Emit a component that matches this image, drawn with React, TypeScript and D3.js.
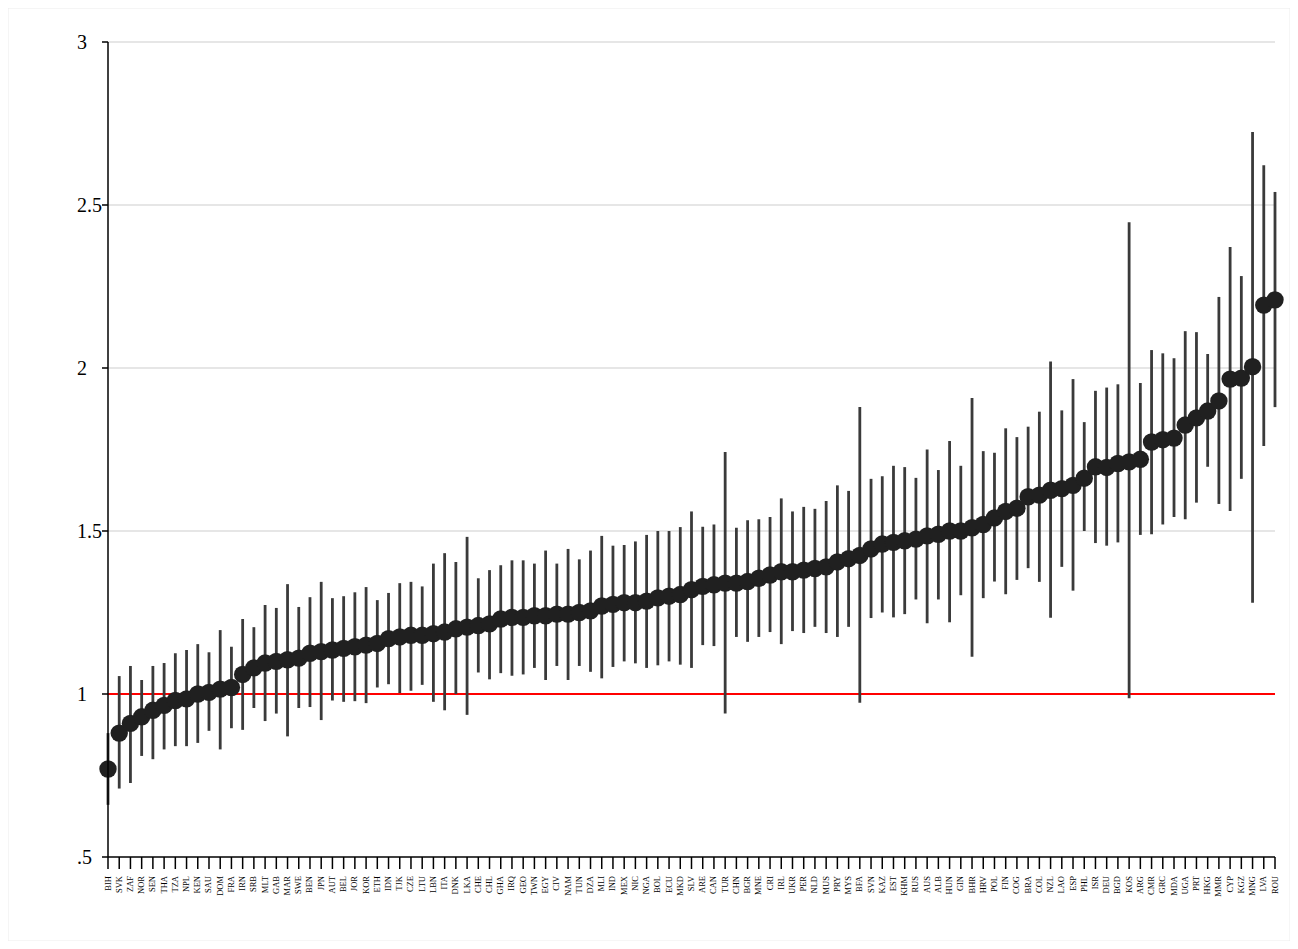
import React from "react";
import * as d3 from "d3";

// Country codes, ordered by estimate
const countries = [
  "BIH","SVK","ZAF","NOR","SEN","THA","TZA","NPL","KEN","SAU","DOM","FRA","IRN","SRB","MLT","GAB","MAR","SWE","BEN","JPN",
  "AUT","BEL","JOR","KOR","ETH","IDN","TJK","CZE","LTU","LBN","ITA","DNK","LKA","CHE","CHL","GHA","IRQ","GEO","TWN","EGY",
  "CIV","NAM","TUN","DZA","MLI","IND","MEX","NIC","NGA","BOL","ECU","MKD","SLV","ARE","CAN","TUR","CHN","BGR","MNE","CRI",
  "IRL","UKR","PER","NLD","MUS","PRY","MYS","BFA","SVN","KAZ","EST","KHM","RUS","AUS","ALB","HUN","GIN","BHR","HRV","POL",
  "FIN","COG","BRA","COL","NZL","LAO","ESP","PHL","ISR","DEU","BGD","KOS","ARG","CMR","GRC","MDA","UGA","PRT","HKG","MMR",
  "CYP","KGZ","MNG","LVA","ROU",
];

// Point estimates
const estimates = [
  0.77,0.88,0.91,0.93,0.95,0.965,0.98,0.985,1.0,1.005,1.015,1.02,1.06,1.08,1.095,1.10,1.105,1.11,1.125,1.13,
  1.135,1.14,1.145,1.15,1.155,1.17,1.175,1.18,1.18,1.185,1.19,1.20,1.205,1.21,1.215,1.23,1.235,1.235,1.24,1.24,
  1.245,1.245,1.25,1.255,1.27,1.275,1.28,1.28,1.285,1.295,1.30,1.305,1.32,1.33,1.335,1.34,1.34,1.345,1.355,1.365,
  1.375,1.375,1.38,1.385,1.39,1.405,1.415,1.425,1.445,1.46,1.465,1.47,1.475,1.485,1.49,1.50,1.50,1.51,1.52,1.54,
  1.56,1.57,1.605,1.61,1.625,1.63,1.64,1.662,1.697,1.695,1.707,1.712,1.72,1.773,1.78,1.785,1.825,1.847,1.868,1.899,
  1.966,1.969,2.004,2.193,2.209,
];

// Lower confidence bounds
const lower = [
  0.66,0.71,0.727,0.81,0.80,0.83,0.84,0.84,0.85,0.887,0.83,0.895,0.89,0.957,0.917,0.94,0.87,0.957,0.96,0.92,
  0.98,0.976,0.978,0.972,1.02,1.03,1.003,1.01,1.028,0.976,0.95,1.0,0.936,1.066,1.045,1.064,1.056,1.06,1.08,1.043,
  1.086,1.043,1.086,1.068,1.048,1.083,1.10,1.094,1.08,1.088,1.10,1.09,1.08,1.15,1.147,0.94,1.175,1.16,1.175,1.19,
  1.153,1.193,1.187,1.206,1.187,1.175,1.206,0.973,1.233,1.25,1.235,1.245,1.29,1.217,1.29,1.22,1.303,1.114,1.294,1.345,
  1.306,1.35,1.386,1.344,1.234,1.39,1.317,1.50,1.463,1.455,1.465,0.987,1.488,1.49,1.52,1.543,1.536,1.587,1.697,1.583,
  1.561,1.66,1.28,1.761,1.88,
];

// Upper confidence bounds
const upper = [
  0.88,1.055,1.086,1.043,1.086,1.095,1.125,1.135,1.153,1.128,1.196,1.145,1.23,1.205,1.273,1.264,1.337,1.267,1.297,1.344,
  1.294,1.30,1.312,1.328,1.288,1.31,1.34,1.344,1.33,1.40,1.432,1.405,1.482,1.355,1.38,1.395,1.41,1.41,1.40,1.44,
  1.40,1.445,1.413,1.44,1.485,1.455,1.457,1.468,1.488,1.50,1.50,1.512,1.56,1.513,1.52,1.742,1.51,1.533,1.536,1.543,
  1.60,1.56,1.574,1.568,1.592,1.64,1.623,1.88,1.66,1.668,1.70,1.696,1.663,1.75,1.687,1.776,1.70,1.908,1.745,1.74,
  1.815,1.788,1.82,1.866,2.02,1.87,1.966,1.834,1.93,1.94,1.95,2.447,1.954,2.055,2.045,2.03,2.113,2.11,2.043,2.218,
  2.371,2.282,2.724,2.622,2.54,
];

const yTicks = [0.5, 1, 1.5, 2, 2.5, 3];
const yTickLabels = [".5", "1", "1.5", "2", "2.5", "3"];
const gridValues = [1.5, 2, 2.5, 3];
const referenceValue = 1;

const W = 1298;
const H = 949;
const left = 100;   // svg is offset by the 8px body margin
const right = 1267;
const top = 34;
const bottom = 849;

export default function App() {
  const x = d3
    .scalePoint<string>()
    .domain(countries)
    .range([left, right]);
  const y = d3.scaleLinear().domain([0.5, 3]).range([bottom, top]);
  const serif = "'Liberation Serif', 'DejaVu Serif', serif";

  return (
    <svg width={W - 16} height={H - 16} style={{ display: "block" }}>
      <rect x={0} y={0} width={W - 16} height={H - 16} fill="#ffffff" stroke="#ececec" strokeWidth={1} />

      {/* grid lines */}
      {gridValues.map((v) => (
        <line key={`g${v}`} x1={left} x2={right} y1={y(v)} y2={y(v)} stroke="#e6e6e6" strokeWidth={2} />
      ))}

      {/* reference line */}
      <line x1={left} x2={right} y1={y(referenceValue)} y2={y(referenceValue)} stroke="#ff0000" strokeWidth={2} />

      {/* confidence intervals */}
      {countries.map((c, i) => (
        <line
          key={`ci${c}`}
          x1={x(c)}
          x2={x(c)}
          y1={y(lower[i])}
          y2={y(upper[i])}
          stroke="#3a3a3a"
          strokeWidth={2.8}
        />
      ))}

      {/* point estimates */}
      {countries.map((c, i) => (
        <circle key={`p${c}`} cx={x(c)} cy={y(estimates[i])} r={8.7} fill="#202020" />
      ))}

      {/* y axis */}
      <line x1={left} x2={left} y1={top} y2={bottom} stroke="#000" strokeWidth={1.5} />
      {yTicks.map((v, i) => (
        <g key={`yt${v}`}>
          <line x1={left - 6} x2={left} y1={y(v)} y2={y(v)} stroke="#000" strokeWidth={1.5} />
          <text
            x={left - 31}
            y={y(v)}
            textAnchor="start"
            dominantBaseline="central"
            fontFamily={serif}
            fontSize={20}
            fill="#000"
          >
            {yTickLabels[i]}
          </text>
        </g>
      ))}

      {/* x axis */}
      <line x1={left} x2={right} y1={bottom} y2={bottom} stroke="#000" strokeWidth={1.5} />
      {countries.map((c) => (
        <g key={`xt${c}`}>
          <line x1={x(c)} x2={x(c)} y1={bottom} y2={bottom + 12} stroke="#000" strokeWidth={1.5} />
          <text
            transform={`translate(${(x(c) ?? 0) + 2.5},${bottom + 19}) rotate(-90)`}
            textAnchor="end"
            fontFamily={serif}
            fontSize={8.5}
            fill="#000"
          >
            {c}
          </text>
        </g>
      ))}
    </svg>
  );
}
